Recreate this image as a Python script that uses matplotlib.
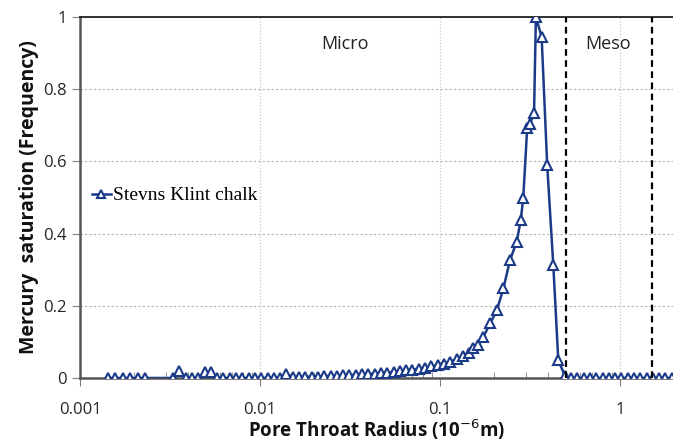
import matplotlib
matplotlib.use('Agg')
import matplotlib.pyplot as plt
from matplotlib.ticker import LogLocator, FixedLocator, NullFormatter

# pore throat radius (micron) and mercury saturation frequency
radius = [0.00143, 0.00157, 0.00173, 0.00190, 0.00209, 0.00230,
          0.00329, 0.00356, 0.00386, 0.00418, 0.00454, 0.00492, 0.00533, 0.00578,
          0.00626, 0.00679, 0.00736, 0.00797, 0.00864, 0.00937, 0.01016, 0.01101,
          0.01193, 0.01293, 0.01402, 0.01520, 0.01647, 0.01786, 0.01936, 0.02098,
          0.02274, 0.02465, 0.02672, 0.02896, 0.03139, 0.03403, 0.03689, 0.03998,
          0.04334, 0.04698, 0.05092, 0.05520, 0.05983, 0.06486, 0.07030, 0.07620,
          0.08260, 0.08953, 0.09705, 0.1050,
          0.1137, 0.124, 0.135, 0.144, 0.153, 0.163, 0.174, 0.190, 0.207, 0.225,
          0.245, 0.267, 0.281, 0.290, 0.305, 0.316, 0.333, 0.341, 0.367, 0.394,
          0.426, 0.454, 0.495,
          0.534, 0.579, 0.628, 0.681, 0.738, 0.800, 0.867, 0.939, 1.018, 1.104,
          1.196, 1.297, 1.405, 1.523, 1.651, 1.789, 1.940]
saturation = [0, 0, 0, 0, 0, 0,
              0, 0.02, 0, 0, 0, 0.016, 0.016, 0,
              0, 0, 0, 0, 0, 0, 0, 0,
              0, 0, 0.012, 0.002, 0.003, 0.003, 0.004, 0.004,
              0.005, 0.006, 0.006, 0.007, 0.008, 0.009, 0.010, 0.011,
              0.012, 0.014, 0.015, 0.017, 0.019, 0.021, 0.023, 0.026,
              0.029, 0.032, 0.036, 0.040,
              0.045, 0.052, 0.061, 0.068, 0.082, 0.091, 0.114, 0.151, 0.188, 0.248,
              0.327, 0.378, 0.438, 0.498, 0.692, 0.704, 0.733, 1.0, 0.945, 0.59,
              0.313, 0.05, 0.005,
              0, 0, 0, 0, 0, 0, 0, 0, 0, 0,
              0, 0, 0, 0, 0, 0, 0]

boundaries = [0.5, 1.5]
yticks = [0, 0.2, 0.4, 0.6, 0.8, 1]
ytick_labels = ['0', '0.2', '0.4', '0.6', '0.8', '1']
xticks = [0.001, 0.01, 0.1, 1]
xtick_labels = ['0.001', '0.01', '0.1', '1']

navy = '#1b3a87'

fig = plt.figure(figsize=(6.73, 4.44), dpi=100)
ax = fig.add_axes([80 / 673, 66 / 444, 593 / 673, 361 / 444])

ax.plot(radius, saturation, color=navy, lw=1.8, marker='^', ms=7.5,
        mfc='white', mec=navy, mew=1.5, label='Stevns Klint chalk', zorder=3)

for b in boundaries:
    ax.plot([b, b], [0, 1], color='black', ls=(0, (3, 2)), lw=1.6, zorder=4)

ax.set_xscale('log')
ax.set_xlim(0.001, 1.97)
ax.set_ylim(0, 1)

ax.xaxis.set_major_locator(FixedLocator(xticks))
ax.set_xticklabels(xtick_labels)
ax.xaxis.set_minor_locator(LogLocator(base=10, subs=range(2, 10)))
ax.xaxis.set_minor_formatter(NullFormatter())
ax.set_yticks(yticks)
ax.set_yticklabels(ytick_labels)

ax.grid(axis='x', which='major', color='#c8c8c8', ls=(0, (1, 1.5)), lw=0.9)
ax.grid(axis='y', which='major', color='#b5b5b5', ls=(0, (2, 2)), lw=0.8)
ax.set_axisbelow(True)

tickfont = 'Open Sans'
ax.tick_params(axis='both', which='major', direction='out', length=6,
               color='#808080', labelsize=12, labelcolor='#262626')
ax.tick_params(axis='x', which='major', pad=11)
ax.tick_params(axis='x', which='minor', direction='in', length=4, color='#808080')
for lab in ax.get_xticklabels() + ax.get_yticklabels():
    lab.set_fontfamily(tickfont)

ax.spines['right'].set_visible(False)
ax.spines['top'].set_color('#222222')
ax.spines['top'].set_linewidth(1.3)
for s in ['left', 'bottom']:
    ax.spines[s].set_color('#555555')
    ax.spines[s].set_linewidth(1.8)

ax.set_xlabel('Pore Throat Radius (10$^{-6}$m)', fontsize=13.5, fontweight='bold',
              family=tickfont, labelpad=0, color='#111111')
ax.set_ylabel('Mercury  saturation (Frequency)', fontsize=14, fontweight='bold',
              family=tickfont, labelpad=3, color='#111111')

ax.text(0.0297, 0.925, 'Micro', fontsize=13, family=tickfont, ha='center', va='center',
        color='#222222', transform=ax.get_xaxis_transform())
ax.text(0.857, 0.925, 'Meso', fontsize=13, family=tickfont, ha='center', va='center',
        color='#222222', transform=ax.get_xaxis_transform())

ax.legend(loc='upper left', bbox_to_anchor=(-0.01, 0.578), frameon=False,
          prop={'family': 'Liberation Serif', 'size': 14}, handlelength=1.0,
          handletextpad=0.1, markerscale=0.8)

fig.savefig('out.png', dpi=100)
